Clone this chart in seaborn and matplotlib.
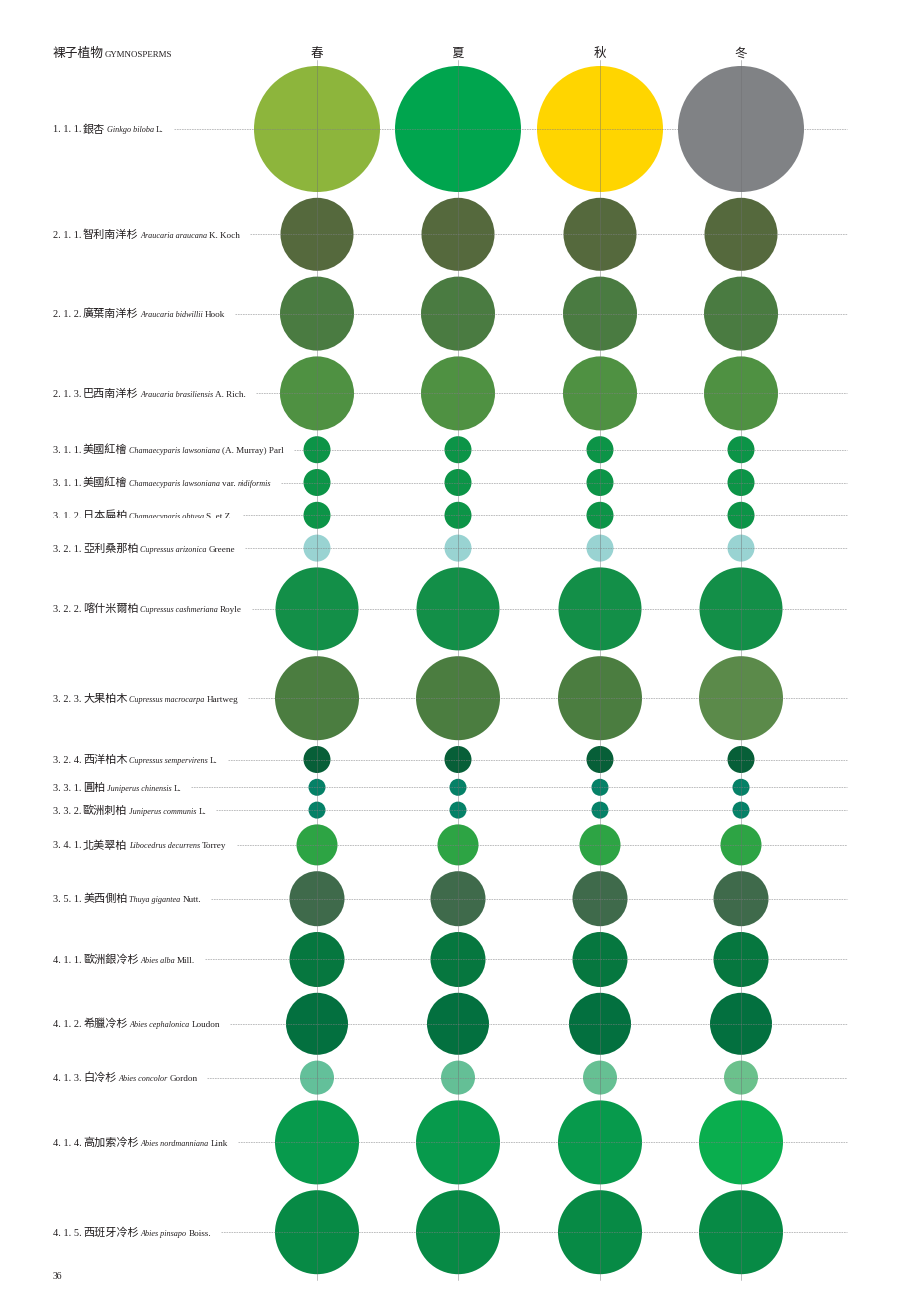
import matplotlib
matplotlib.use('Agg')
import matplotlib.pyplot as plt
from matplotlib.transforms import Bbox, TransformedBbox
import seaborn as sns
import numpy as np
import pandas as pd

# ── DATA ──────────────────────────────────────────────
seasons = ['春', '夏', '秋', '冬']

codes = ['1. 1. 1.', '2. 1. 1.', '2. 1. 2.', '2. 1. 3.', '3. 1. 1.', '3. 1. 1.',
         '3. 1. 2.', '3. 2. 1.', '3. 2. 2.', '3. 2. 3.', '3. 2. 4.', '3. 3. 1.',
         '3. 3. 2.', '3. 4. 1.', '3. 5. 1.', '4. 1. 1.', '4. 1. 2.', '4. 1. 3.',
         '4. 1. 4.', '4. 1. 5.']
names_zh = ['銀杏', '智利南洋杉', '廣葉南洋杉', '巴西南洋杉', '美國紅檜', '美國紅檜',
            '日本扁柏', '亞利桑那柏', '喀什米爾柏', '大果柏木', '西洋柏木', '圓柏',
            '歐洲刺柏', '北美翠柏', '美西側柏', '歐洲銀冷杉', '希臘冷杉', '白冷杉',
            '高加索冷杉', '西班牙冷杉']
names_lat = ['Ginkgo biloba', 'Araucaria araucana', 'Araucaria bidwillii',
             'Araucaria brasiliensis', 'Chamaecyparis lawsoniana',
             'Chamaecyparis lawsoniana', 'Chamaecyparis obtusa', 'Cupressus arizonica',
             'Cupressus cashmeriana', 'Cupressus macrocarpa', 'Cupressus sempervirens',
             'Juniperus chinensis', 'Juniperus communis', 'Libocedrus decurrens',
             'Thuya gigantea', 'Abies alba', 'Abies cephalonica', 'Abies concolor',
             'Abies nordmanniana', 'Abies pinsapo']
authors = ['L.', 'K. Koch', 'Hook', 'A. Rich.', '(A. Murray) Parl', 'var.',
           'S. et Z.', 'Greene', 'Royle', 'Hartweg', 'L.', 'L.', 'L.', 'Torrey',
           'Nutt.', 'Mill.', 'Loudon', 'Gordon', 'Link', 'Boiss.']
variety = ['', '', '', '', '', 'nidiformis', '', '', '', '', '', '', '', '', '', '',
           '', '', '', '']

# circle diameter (px) per species, same in every season
diameter = [126, 73, 74, 74, 27, 27, 27, 27, 83, 84, 27, 17, 17, 41, 55, 55, 62, 34, 84, 84]

# colour per species per season (春, 夏, 秋, 冬)
colors = [
    ['#8db53c', '#00a54e', '#ffd500', '#808285'],
    ['#55693d', '#55693d', '#55693d', '#55693d'],
    ['#4a7b41', '#4a7b41', '#4a7b41', '#4a7b41'],
    ['#4f9142', '#4f9142', '#4f9142', '#4f9142'],
    ['#0c9447', '#0c9447', '#0c9447', '#0c9447'],
    ['#0c9447', '#0c9447', '#0c9447', '#0c9447'],
    ['#0c9447', '#0c9447', '#0c9447', '#0c9447'],
    ['#99d3d2', '#99d3d2', '#99d3d2', '#99d3d2'],
    ['#138f48', '#138f48', '#138f48', '#138f48'],
    ['#4b7d40', '#4b7d40', '#4b7d40', '#5b8a4a'],
    ['#075f38', '#075f38', '#075f38', '#075f38'],
    ['#058167', '#058167', '#058167', '#058167'],
    ['#058167', '#058167', '#058167', '#058167'],
    ['#2da444', '#2da444', '#2da444', '#2da444'],
    ['#3f6a4b', '#3f6a4b', '#3f6a4b', '#3f6a4b'],
    ['#06773f', '#06773f', '#06773f', '#06773f'],
    ['#03703f', '#03703f', '#03703f', '#03703f'],
    ['#63c09a', '#64bf96', '#66c093', '#6bc18c'],
    ['#079a4c', '#079a4c', '#079a4c', '#0aae4e'],
    ['#078a45', '#078a45', '#078a45', '#078a45'],
]

# ── LAYOUT ────────────────────────────────────────────
W, H = 900, 1306
COL_X = [317, 458, 600, 741]
TOP_Y = 129
GAP = 5.8
LEFT = 53
LINE_END = 847

d = np.array(diameter, dtype=float)
row_y = TOP_Y + np.concatenate([[0], np.cumsum(d[:-1] / 2 + GAP + d[1:] / 2)])

rows = []
for i in range(len(codes)):
    for j, s in enumerate(seasons):
        rows.append({'species': i, 'season': s, 'x': COL_X[j], 'y': row_y[i],
                     'area': d[i] ** 2, 'color': colors[i][j]})
df = pd.DataFrame(rows)

sns.set_style('white')
SERIF = ['Liberation Serif', 'Noto Sans CJK TC']
plt.rcParams['font.family'] = SERIF

fig = plt.figure(figsize=(W / 100, H / 100), dpi=100)
ax = fig.add_axes([0, 0, 1, 1])
ax.set_xlim(0, W)
ax.set_ylim(H, 0)
ax.axis('off')

pt = 0.72  # points per pixel at 100 dpi
sns.scatterplot(
    data=df, x='x', y='y', hue='color',
    palette={c: c for c in df['color'].unique()},
    size='area', sizes=((d.min() * pt) ** 2, (d.max() * pt) ** 2),
    size_norm=(d.min() ** 2, d.max() ** 2),
    linewidth=0, legend=False, ax=ax, zorder=2
)

renderer = fig.canvas.get_renderer()

def put(x, y, s, size, style='normal', family=SERIF, color='#231f20'):
    t = ax.text(x, y, s, fontsize=size, style=style, family=family,
                color=color, va='baseline', ha='left', zorder=5)
    return t, t.get_window_extent(renderer).x1

# header
_, x = put(LEFT, 57, '裸子植物', 9.2)
put(x + 1, 57, 'GYMNOSPERMS', 6.4)
for cx, s in zip(COL_X, seasons):
    ax.text(cx, 57, s, fontsize=9, ha='center', va='baseline', color='#231f20', zorder=5)

# vertical guide lines
for cx in COL_X:
    ax.plot([cx, cx], [60, 1280], color='#6d6e71', lw=0.6, alpha=0.5, zorder=3)

# row labels + dashed guide lines
for i in range(len(codes)):
    yb = row_y[i] + 3.5
    t0, x = put(LEFT, yb, codes[i], 7.5)
    t1, x = put(x + 1.5, yb, names_zh[i], 8.0)
    t2, x = put(x + 1.5, yb, names_lat[i], 5.9, style='italic')
    t3, x = put(x + 2, yb, authors[i], 6.6)
    pieces = [t0, t1, t2, t3]
    if variety[i]:
        t4, x = put(x + 2, yb, variety[i], 5.9, style='italic')
        pieces.append(t4)
    if i == 6:
        # the printed label of 3.1.2 is cut off along its lower edge
        clip = TransformedBbox(Bbox([[0, 0], [W, row_y[i] + 3]]), ax.transData)
        for t in pieces:
            t.set_clip_box(clip)
            t.set_clip_on(True)
    ax.plot([x + 10, LINE_END], [row_y[i], row_y[i]], color='#808285', lw=0.6,
            alpha=0.6, dashes=(2, 1), zorder=3)

# page number
ax.text(LEFT, 1279, '36', fontsize=7, color='#231f20', va='baseline')

fig.savefig('out.png', dpi=100, facecolor='white')
